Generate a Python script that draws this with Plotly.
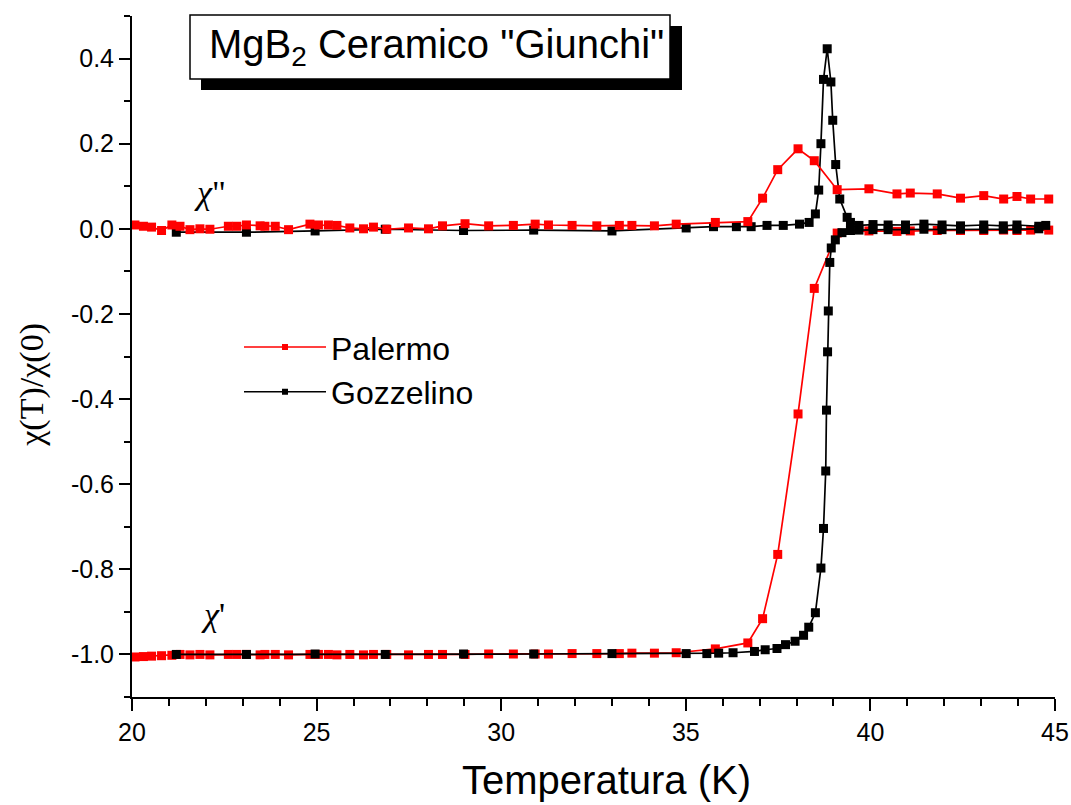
import plotly.graph_objects as go

# ---------------- data ----------------
# Palermo (red): temperatures shared by chi' and chi''
T_pal = [20.08, 20.31, 20.53, 20.8, 21.08, 21.3, 21.57, 21.84, 22.11, 22.61, 22.84, 23.1,
         23.47, 23.6, 23.88, 24.24, 24.82, 25.05, 25.32, 25.55, 25.9, 26.27, 26.54,
         26.9, 27.49, 28.03, 28.41, 29.02, 29.66, 30.33, 30.92, 31.28, 31.92, 32.59,
         33.2, 33.54, 34.15, 34.74, 35.8, 36.68, 37.08, 37.49, 38.04, 38.48, 39.1,
         39.96, 40.72, 41.08, 41.81, 42.44, 43.07, 43.61, 43.97, 44.34, 44.83]
chi2_pal = [0.009, 0.006, 0.004, -0.004, 0.009, 0.006, -0.002, 0.0, -0.001, 0.006, 0.006, 0.009,
            0.007, 0.006, 0.006, -0.002, 0.011, 0.009, 0.009, 0.008, 0.002, 0.0, 0.004,
            -0.001, 0.002, 0.0, 0.007, 0.012, 0.007, 0.008, 0.011, 0.009, 0.008, 0.007,
            0.008, 0.008, 0.007, 0.011, 0.015, 0.017, 0.072, 0.139, 0.188, 0.160, 0.092,
            0.094, 0.082, 0.084, 0.082, 0.072, 0.078, 0.070, 0.076, 0.070, 0.070]
chi1_pal = [-1.006, -1.005, -1.004, -1.003, -1.002, -1.0, -1.001, -1.0, -1.001, -1.0, -1.0, -1.0,
            -1.001, -1.0, -1.0, -1.001, -1.0, -1.0, -1.0, -1.001, -1.0, -1.001, -1.0,
            -1.0, -1.001, -1.0, -1.0, -1.0, -0.999, -0.999, -0.999, -0.999, -0.998, -0.998,
            -0.998, -0.997, -0.997, -0.996, -0.987, -0.973, -0.916, -0.765, -0.435, -0.140, -0.010,
            -0.005, -0.006, -0.005, -0.004, -0.004, -0.004, -0.003, -0.004, -0.003, -0.003]

# Gozzelino (black)
T_goz2 = [21.2, 23.1, 24.96, 26.86, 28.98, 30.88, 33.0, 35.01, 35.75, 36.37, 36.77, 37.2,
          37.64, 38.08, 38.34, 38.51, 38.6, 38.66, 38.73, 38.83, 38.93, 38.98, 39.06, 39.17,
          39.37, 39.46, 39.69, 40.07, 40.48, 40.95, 41.45, 41.94, 42.44, 43.07, 43.6, 43.97,
          44.56, 44.75]
chi2_goz = [-0.008, -0.008, -0.005, -0.001, -0.004, -0.003, -0.005, 0.002, 0.005, 0.005, 0.005, 0.008,
            0.008, 0.011, 0.015, 0.035, 0.091, 0.200, 0.351, 0.423, 0.345, 0.255, 0.151, 0.070,
            0.027, 0.015, 0.008, 0.010, 0.009, 0.009, 0.011, 0.009, 0.007, 0.009, 0.007, 0.009,
            0.006, 0.008]
T_goz1 = [21.2, 23.1, 24.96, 26.86, 28.98, 30.88, 33.0, 35.01, 35.57, 35.89, 36.28, 36.86,
          37.15, 37.47, 37.7, 37.96, 38.19, 38.33, 38.51, 38.66, 38.73, 38.79, 38.81, 38.84,
          38.86, 38.9, 38.94, 39.05, 39.23, 39.46, 39.69, 40.07, 40.48, 40.95, 41.45, 41.94,
          42.44, 43.07, 43.6, 43.97, 44.56]
chi1_goz = [-1.0, -1.0, -0.999, -1.0, -0.999, -0.999, -0.998, -0.998, -0.998, -0.997, -0.996, -0.993,
            -0.989, -0.986, -0.977, -0.969, -0.955, -0.936, -0.902, -0.797, -0.704, -0.569, -0.426, -0.289,
            -0.193, -0.079, -0.045, -0.026, -0.009, -0.004, -0.003, -0.002, -0.002, -0.002, -0.001, -0.002,
            -0.001, -0.001, -0.001, -0.001, 0.0]

x_ticks = [20, 25, 30, 35, 40, 45]
y_ticks = [0.4, 0.2, 0.0, -0.2, -0.4, -0.6, -0.8, -1.0]
y_tick_text = ["0.4", "0.2", "0.0", "-0.2", "-0.4", "-0.6", "-0.8", "-1.0"]

series_names = ["Palermo", "Gozzelino"]
RED = "#ff0000"
BLACK = "#000000"
SANS = "Liberation Sans, Arial, sans-serif"
SERIF = "Liberation Serif, Times New Roman, serif"

fig = go.Figure()


def add(x, y, color):
    fig.add_trace(go.Scatter(
        x=x, y=y, mode="lines+markers",
        line=dict(color=color, width=1.7),
        marker=dict(symbol="square", size=9, color=color),
        showlegend=False, hoverinfo="skip"))


add(T_pal, chi1_pal, RED)
add(T_goz2, chi2_goz, BLACK)
add(T_pal, chi2_pal, RED)
add(T_goz1, chi1_goz, BLACK)

# legend entries
for name, color in zip(series_names, [RED, BLACK]):
    fig.add_trace(go.Scatter(
        x=[None], y=[None], mode="lines+markers", name=name,
        line=dict(color=color, width=1.5),
        marker=dict(symbol="square", size=6, color=color)))

fig.update_layout(
    width=1071, height=805,
    margin=dict(l=132, r=16, t=16, b=108, autoexpand=False),
    paper_bgcolor="white", plot_bgcolor="white",
    font=dict(family=SANS, color="black", size=24),
    legend=dict(x=(239 - 132) / 923, y=(697.5 - 320) / 681.5,
                xanchor="left", yanchor="top",
                font=dict(family=SANS, size=32, color="black"),
                itemwidth=82, tracegroupgap=0,
                bgcolor="rgba(0,0,0,0)"),
    xaxis=dict(range=[20, 45], tickvals=x_ticks, ticks="outside", ticklen=12,
               tickwidth=2, tickcolor="black", showline=True, linecolor="black",
               linewidth=2, showgrid=False, zeroline=False, automargin=False,
               tickfont=dict(family=SANS, size=25),
               minor=dict(dtick=1, ticks="outside", ticklen=7, tickwidth=2,
                          tickcolor="black", showgrid=False)),
    yaxis=dict(range=[-1.1, 0.5], tickvals=y_ticks, ticktext=y_tick_text,
               ticks="outside", ticklen=11, tickwidth=2, tickcolor="black",
               showline=True, linecolor="black", linewidth=2, showgrid=False,
               zeroline=False, automargin=False, tickfont=dict(family=SANS, size=25),
               minor=dict(dtick=0.1, tick0=0, ticks="outside", ticklen=6, tickwidth=2,
                          tickcolor="black", showgrid=False)),
)

# title box with shadow
fig.add_shape(type="rect", xref="paper", yref="paper",
              x0=(201 - 132) / 923, x1=(682 - 132) / 923,
              y0=(697.5 - 90) / 681.5, y1=(697.5 - 26) / 681.5,
              fillcolor="black", line=dict(width=0), layer="above")
fig.add_shape(type="rect", xref="paper", yref="paper",
              x0=(190 - 132) / 923, x1=(670 - 132) / 923,
              y0=(697.5 - 79) / 681.5, y1=(697.5 - 15) / 681.5,
              fillcolor="white", line=dict(color="black", width=1.5), layer="above")
fig.add_annotation(xref="paper", yref="paper",
                   x=(436 - 132) / 923, y=(697.5 - 47) / 681.5,
                   text='MgB<sub>2</sub> Ceramico "Giunchi"', showarrow=False,
                   font=dict(family=SANS, size=40, color="black"),
                   xanchor="center", yanchor="middle")

# axis titles
fig.add_annotation(xref="paper", yref="paper",
                   x=(606 - 132) / 923, y=(697.5 - 781) / 681.5,
                   text="Temperatura (K)", showarrow=False,
                   font=dict(family=SANS, size=40, color="black"),
                   xanchor="center", yanchor="middle")
fig.add_annotation(xref="paper", yref="paper",
                   x=(32 - 132) / 923, y=(697.5 - 385) / 681.5,
                   text="χ(T)/χ(0)", showarrow=False, textangle=-90,
                   font=dict(family=SERIF, size=34, color="black"),
                   xanchor="center", yanchor="middle")

# curve labels
fig.add_annotation(x=22.1, y=0.085, text='<i>χ</i>"', showarrow=False,
                   font=dict(family=SERIF, size=34, color="black"))
fig.add_annotation(x=22.2, y=-0.905, text="<i>χ</i>'", showarrow=False,
                   font=dict(family=SERIF, size=34, color="black"))

fig.write_html("out.html")
